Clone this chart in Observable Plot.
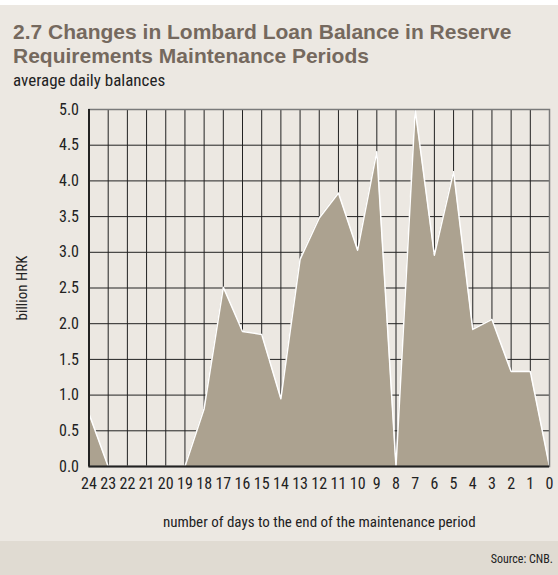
<!DOCTYPE html>
<html>
<head>
<meta charset="utf-8">
<script src="https://cdn.jsdelivr.net/npm/d3@7"></script>
<script src="https://cdn.jsdelivr.net/npm/@observablehq/plot@0.6"></script>
<style>
  html, body { margin: 0; padding: 0; background: #fff; }
  #wrap { position: relative; width: 558px; height: 570px; margin-top: 5px; background: #ECE8E2; overflow: hidden;
          font-family: "Liberation Sans Narrow", "Roboto Condensed", "DejaVu Sans Condensed", sans-serif; }
  #title { position: absolute; left: 13px; top: 15px; font-family: "Liberation Sans", Arial, sans-serif; font-weight: bold;
           font-size: 21px; line-height: 24px; color: #75695E; }
  #subtitle { position: absolute; left: 13px; top: 65px; font-size: 17px; color: #222; }
  #chart { position: absolute; left: 0; top: 85px; }
  #footer { position: absolute; left: 0; top: 536px; width: 558px; height: 34px; background: #E0DBD2; }
  #source { position: absolute; right: 5px; top: 11px; font-size: 12px; color: #222; }
</style>
</head>
<body>
<div id="wrap">
  <div id="title">2.7 Changes in Lombard Loan Balance in Reserve<br>Requirements Maintenance Periods</div>
  <div id="subtitle">average daily balances</div>
  <div id="chart"></div>
  <div id="footer"><div id="source">Source: CNB.</div></div>
</div>
<script>
const days = [24,23,22,21,20,19,18,17,16,15,14,13,12,11,10,9,8,7,6,5,4,3,2,1,0];
const values = [0.74,0,0,0,0,0,0.81,2.51,1.89,1.85,0.95,2.90,3.48,3.83,3.03,4.41,0,5.0,2.96,4.13,1.92,2.06,1.33,1.33,0];
const yTicks = [0,0.5,1,1.5,2,2.5,3,3.5,4,4.5,5];

const data = days.map((d, i) => ({day: d, value: values[i]}));

const chart = Plot.plot({
  width: 558,
  height: 446,
  marginLeft: 88.5,
  marginRight: 9,
  marginTop: 19,
  marginBottom: 70,
  style: {background: "transparent", fontFamily: "'Liberation Sans Narrow', 'Roboto Condensed', 'DejaVu Sans Condensed', sans-serif", fontSize: "16px", color: "#222"},
  x: {domain: [24, 0], label: null},
  y: {domain: [0, 5], label: null},
  marks: [
    Plot.gridX(days, {stroke: "#222", strokeOpacity: 1, strokeWidth: 1}),
    Plot.gridY(yTicks, {stroke: "#222", strokeOpacity: 1, strokeWidth: 1}),
    Plot.areaY(data, {x: "day", y: "value", fill: "#ACA290"}),
    Plot.lineY(data, {x: "day", y: "value", stroke: "#fff", strokeWidth: 1.5}),
    Plot.frame({stroke: "#7a7a7a", strokeWidth: 1.5}),
    Plot.ruleX([24], {stroke: "#222", strokeWidth: 2}),
    Plot.ruleY([0], {stroke: "#222", strokeWidth: 2}),
    Plot.axisY(yTicks, {tickSize: 0, tickPadding: 10, tickFormat: d3.format(".1f"), label: "billion HRK", labelAnchor: "center", labelArrow: "none", labelOffset: 73, fontSize: 15}),
    Plot.axisX(days, {tickSize: 0, tickPadding: 11, tickFormat: d => String(d), label: "number of days to the end of the maintenance period", labelAnchor: "center", labelArrow: "none", labelOffset: 60, fontSize: 15})
  ]
});
document.getElementById("chart").appendChild(chart);
// make tick labels slightly larger than the axis titles
chart.querySelectorAll("g[aria-label='y-axis tick label'], g[aria-label='x-axis tick label']").forEach(g => g.setAttribute("font-size", 16));
</script>
</body>
</html>
